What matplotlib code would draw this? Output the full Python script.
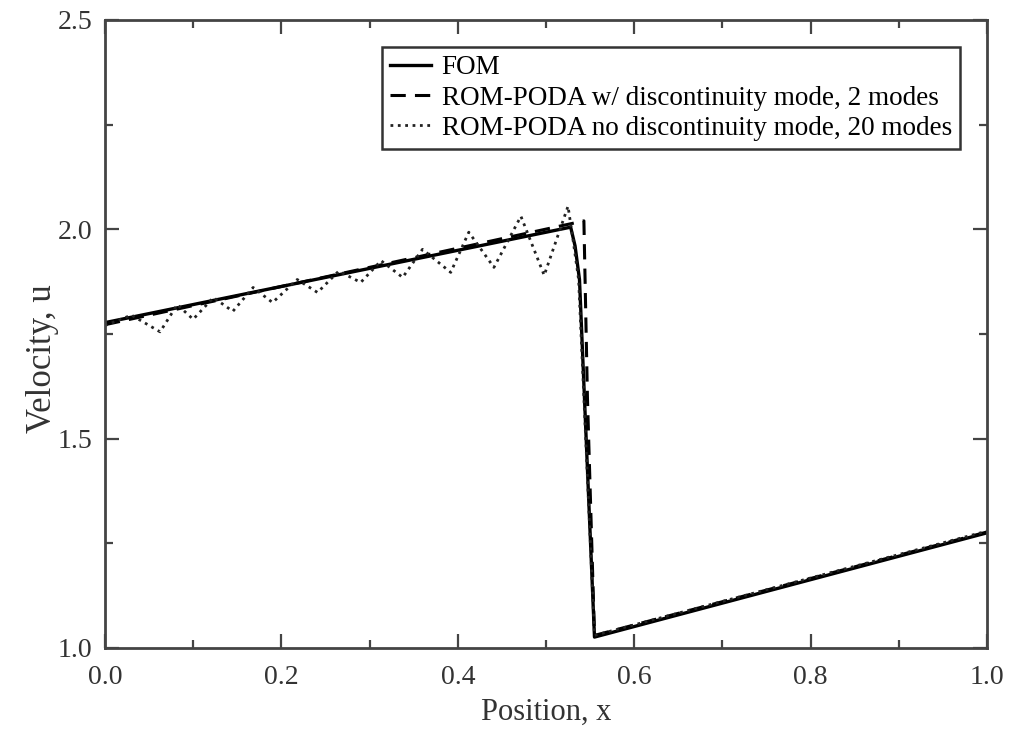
import matplotlib
matplotlib.use("Agg")
import matplotlib.pyplot as plt
from matplotlib.ticker import MultipleLocator

plt.rcParams["font.family"] = ["Liberation Serif", "DejaVu Serif"]

# FOM solution
fom_x = [0.0, 0.528, 0.533, 0.538, 0.555, 1.0]
fom_u = [1.777, 2.005, 1.96, 1.88, 1.026, 1.275]

# ROM-PODA with discontinuity mode, 2 modes
rom2_x = [0.0, 0.543, 0.547, 0.555, 1.0]
rom2_u = [1.772, 2.02, 1.60, 1.03, 1.277]

# ROM-PODA without discontinuity mode, 20 modes (read at peaks and dips)
rom20_x = [0.0, 0.03, 0.0625, 0.082, 0.10, 0.123, 0.145, 0.168, 0.19, 0.218, 0.241,
           0.265, 0.29, 0.313, 0.3375, 0.36, 0.392, 0.4125, 0.441, 0.4716, 0.498,
           0.525, 0.531, 0.537, 0.555, 1.0]
rom20_u = [1.77, 1.795, 1.755, 1.82, 1.785, 1.837, 1.804, 1.861, 1.825, 1.88, 1.849,
           1.90, 1.873, 1.925, 1.885, 1.952, 1.897, 1.993, 1.909, 2.031, 1.89,
           2.055, 1.97, 1.88, 1.03, 1.279]

fig = plt.figure(figsize=(10.15, 7.32), dpi=100)
ax = fig.add_axes([0.1034, 0.1148, 0.8690, 0.8580])

ax.plot(fom_x, fom_u, "-", color="black", lw=2.4, label="FOM")
ax.plot(rom2_x, rom2_u, "--", color="black", lw=2.2, dashes=(5, 3),
        label="ROM-PODA w/ discontinuity mode, 2 modes")
ax.plot(rom20_x, rom20_u, ":", color="#222222", lw=2.0,
        label="ROM-PODA no discontinuity mode, 20 modes")

ax.set_xlim(0, 1)
ax.set_ylim(1.0, 2.5)
ax.xaxis.set_major_locator(MultipleLocator(0.2))
ax.xaxis.set_minor_locator(MultipleLocator(0.1))
ax.yaxis.set_major_locator(MultipleLocator(0.5))
ax.yaxis.set_minor_locator(MultipleLocator(0.25))
ax.xaxis.set_major_formatter(matplotlib.ticker.FormatStrFormatter("%.1f"))
ax.yaxis.set_major_formatter(matplotlib.ticker.FormatStrFormatter("%.1f"))

ax.tick_params(which="both", direction="in", top=True, right=True,
               color="#444444", width=1.6, labelsize=20, labelcolor="#333333")
ax.tick_params(which="major", length=10)
ax.tick_params(axis="x", which="major", pad=12)
ax.tick_params(axis="y", which="major", pad=9)
ax.tick_params(which="minor", length=6)
for s in ax.spines.values():
    s.set_color("#444444")
    s.set_linewidth(2)

ax.set_xlabel("Position, x", fontsize=22, color="#333333", labelpad=6)
ax.set_ylabel("Velocity, u", fontsize=25, color="#333333")
ax.yaxis.set_label_coords(-0.052, 0.46)

leg = ax.legend(loc="upper right", fontsize=19.5, handlelength=1.5, handletextpad=0.4,
                labelspacing=0.2, borderpad=0.3, fancybox=False, framealpha=1,
                borderaxespad=1.0)
leg.get_frame().set_edgecolor("#333333")
leg.get_frame().set_linewidth(1.8)

fig.savefig("out.png", dpi=100)
